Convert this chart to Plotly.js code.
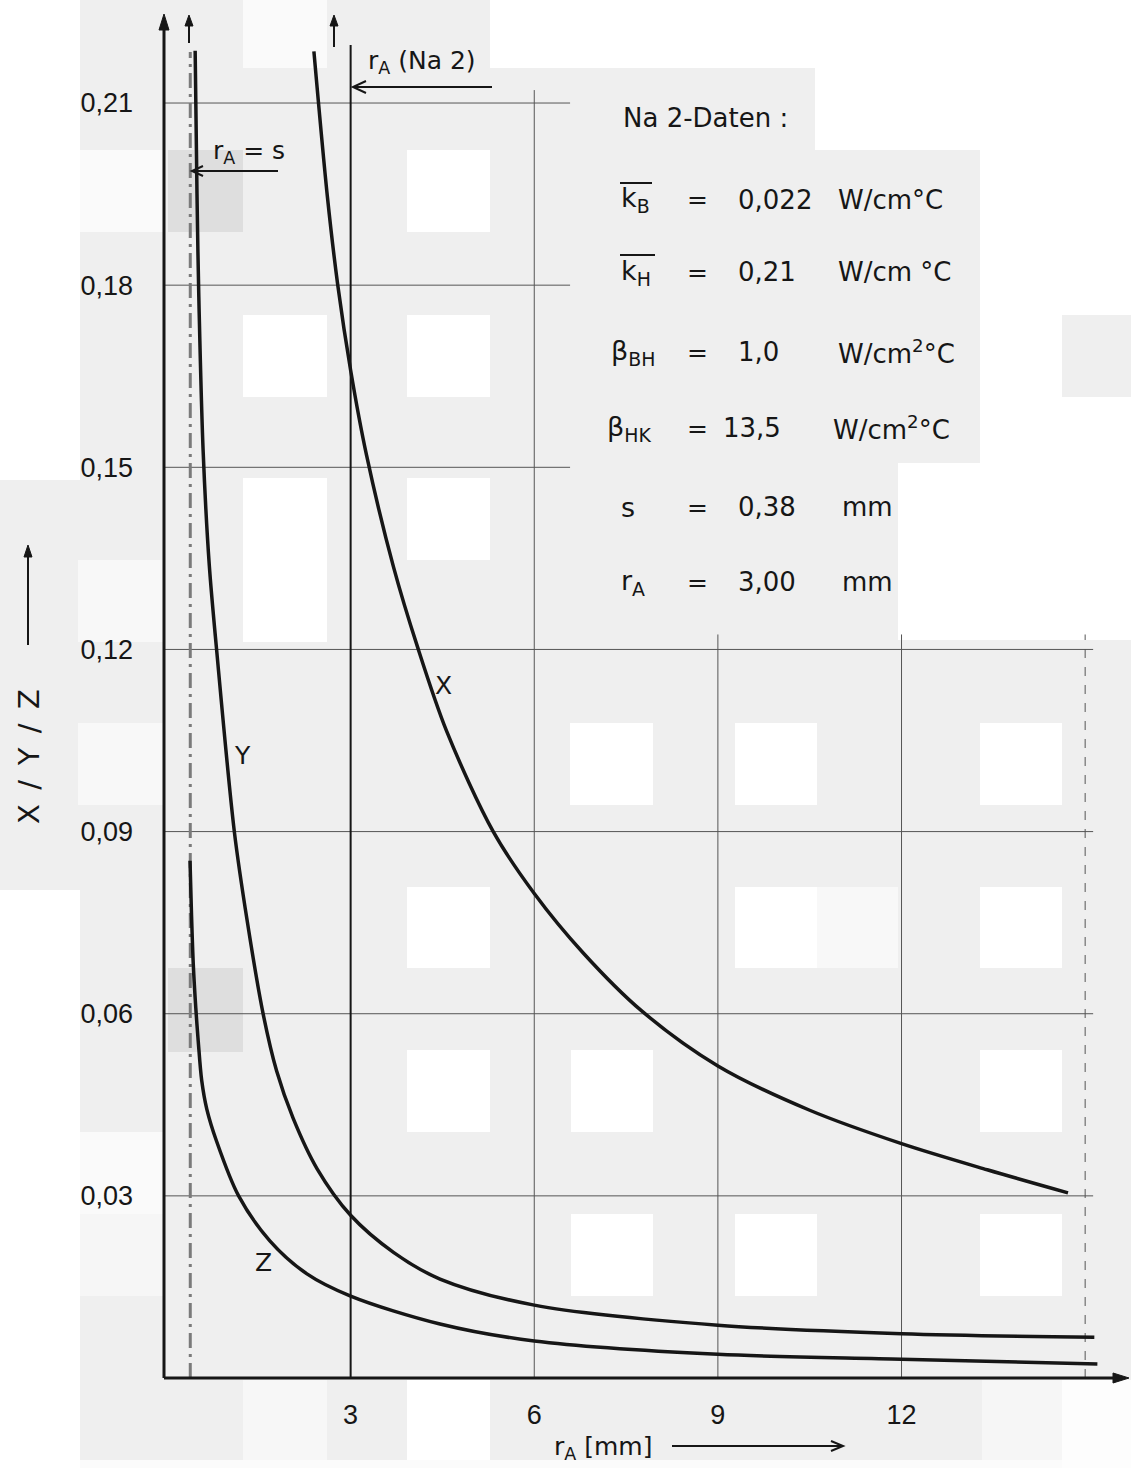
<!DOCTYPE html>
<html>
<head>
<meta charset="utf-8">
<script src="https://cdn.plot.ly/plotly-3.0.1.min.js"></script>
<style>html,body{margin:0;padding:0;background:#efefef;}#chart{width:1131px;height:1468px;}</style>
</head>
<body>
<div id="chart"></div>
<script>
// ---------- data ----------
const xTickVals = [3, 6, 9, 12];
const yTickVals = [0.03, 0.06, 0.09, 0.12, 0.15, 0.18, 0.21];

const curveX_r = [2.40, 2.62, 2.79, 3.00, 3.26, 3.70, 4.09, 4.57, 5.33, 6.00, 6.80, 7.75, 9.00, 10.50, 12.00, 13.40, 14.72];
const curveX_v = [0.2185, 0.1946, 0.1800, 0.1660, 0.1520, 0.1336, 0.1205, 0.1065, 0.0900, 0.0798, 0.0700, 0.0605, 0.0514, 0.0441, 0.0386, 0.0343, 0.0305];

const curveY_r = [0.46, 0.49, 0.52, 0.59, 0.69, 0.81, 1.10, 1.31, 1.57, 1.79, 2.06, 2.45, 3.00, 3.70, 4.46, 6.00, 9.00, 12.00, 15.15];
const curveY_v = [0.2186, 0.1950, 0.1780, 0.1528, 0.1340, 0.1200, 0.0900, 0.0753, 0.0600, 0.0506, 0.0428, 0.0345, 0.0268, 0.0207, 0.0163, 0.0120, 0.0087, 0.0073, 0.0067];

const curveZ_r = [0.376, 0.40, 0.43, 0.47, 0.51, 0.567, 0.65, 0.81, 1.17, 1.68, 2.28, 3.00, 4.46, 6.00, 9.00, 12.00, 15.20];
const curveZ_v = [0.0852, 0.0765, 0.0680, 0.0610, 0.0555, 0.0490, 0.0443, 0.0390, 0.0300, 0.0226, 0.0172, 0.0135, 0.0089, 0.0061, 0.0039, 0.0031, 0.0023];

const s_mm = 0.38;      // r_A = s
const rA_mm = 3.00;     // r_A (Na 2)

const tableLabels = ['k<sub>B</sub>', 'k<sub>H</sub>', 'β<sub>BH</sub>', 'β<sub>HK</sub>', 's', 'r<sub>A</sub>'];
const tableValues = ['0,022', '0,21', '1,0', '13,5', '0,38', '3,00'];
const tableUnits  = ['W/cm°C', 'W/cm °C', 'W/cm<sup>2</sup>°C', 'W/cm<sup>2</sup>°C', 'mm', 'mm'];

// ---------- helpers: pixel -> paper / data (placement of decorations) ----------
const PX = px => (px - 164) / 964;
const PY = py => (1378 - py) / 1363;
const X = px => (px - 167) / 61.2;
const Y = py => (1377 - py) / 6067;

const FONT = 'DejaVu Sans, Liberation Sans, sans-serif';
const TICKFONT = 'Liberation Sans, Arial, sans-serif';
const INK = '#161616';
const GRAY = '#efefef';

const curveLine = {color: INK, width: 3.5, shape: 'spline', smoothing: 0.9};
const traces = [
  {x: curveX_r, y: curveX_v, mode: 'lines', line: curveLine, name: 'X'},
  {x: curveY_r, y: curveY_v, mode: 'lines', line: curveLine, name: 'Y'},
  {x: curveZ_r, y: curveZ_v, mode: 'lines', line: curveLine, name: 'Z'}
];

const shapes = [];
// ---------- scanned background blocks (decoration) ----------
const bgBlocks = [
  [0, 0, 80, 480, '#ffffff'], [0, 890, 80, 1468, '#ffffff'], [80, 1460, 1131, 1468, '#fbfbfb'],
  [243, 0, 327, 68, '#fafafa'], [490, 0, 1131, 68, '#ffffff'], [815, 68, 1131, 150, '#ffffff'],
  [980, 150, 1131, 640, '#ffffff'], [1062, 315, 1131, 397, GRAY], [898, 463, 980, 640, '#ffffff'],
  [80, 150, 163, 232, '#fafafa'], [407, 150, 490, 232, '#ffffff'], [168, 150, 243, 232, '#dedede'],
  [243, 315, 327, 397, '#ffffff'], [407, 315, 490, 397, '#ffffff'],
  [243, 478, 327, 642, '#ffffff'], [407, 478, 490, 560, '#ffffff'],
  [78, 560, 163, 642, '#f8f8f8'], [78, 723, 163, 805, '#f8f8f8'],
  [570, 723, 653, 805, '#ffffff'], [735, 723, 817, 805, '#ffffff'], [980, 723, 1062, 805, '#ffffff'],
  [407, 887, 490, 968, '#ffffff'], [735, 887, 817, 968, '#ffffff'], [817, 887, 898, 968, '#f8f8f8'], [980, 887, 1062, 968, '#ffffff'],
  [168, 968, 243, 1052, '#dedede'],
  [407, 1050, 490, 1132, '#ffffff'], [571, 1050, 653, 1132, '#ffffff'], [980, 1050, 1062, 1132, '#ffffff'],
  [80, 1132, 163, 1214, '#fafafa'], [80, 1214, 163, 1296, '#f6f6f6'],
  [571, 1214, 653, 1296, '#ffffff'], [735, 1214, 817, 1296, '#ffffff'], [980, 1214, 1062, 1296, '#ffffff'],
  [243, 1380, 327, 1460, '#f7f7f7'], [407, 1380, 490, 1460, '#ffffff'],
  [982, 1380, 1062, 1460, '#f6f6f6'], [1062, 1380, 1131, 1468, '#fdfdfd']
];
bgBlocks.forEach(b => shapes.push({type: 'rect', xref: 'paper', yref: 'paper', layer: 'below',
  x0: PX(b[0]), x1: PX(b[2]), y0: PY(b[3]), y1: PY(b[1]), fillcolor: b[4], line: {width: 0}}));

// ---------- grid as shapes ----------
const gridCol = '#555555';
yTickVals.forEach(v => {
  const xEnd = v > 0.125 ? X(570) : X(1093);
  shapes.push({type: 'line', xref: 'x', yref: 'y', x0: -0.049, x1: xEnd, y0: v, y1: v,
               line: {color: gridCol, width: 1}, layer: 'below'});
});
const vGrid = [6, 9, 12, 15];
vGrid.forEach(v => {
  const yTop = v === 6 ? Y(90) : Y(634);
  shapes.push({type: 'line', xref: 'x', yref: 'y', x0: v, x1: v, y0: 0, y1: yTop,
               line: {color: gridCol, width: 1, dash: v === 15 ? 'dash' : 'solid'}, layer: 'below'});
});
// r_A = s marker line (dash-dot, grey)
shapes.push({type: 'line', xref: 'x', yref: 'y', x0: s_mm, x1: s_mm, y0: 0, y1: Y(52),
             line: {color: '#7a7a7a', width: 3, dash: 'longdashdot'}, layer: 'below'});
// r_A (Na 2) marker line
shapes.push({type: 'line', xref: 'x', yref: 'y', x0: rA_mm, x1: rA_mm, y0: 0, y1: Y(45),
             line: {color: INK, width: 2}, layer: 'below'});
// overlines on k_B and k_H
shapes.push({type: 'line', xref: 'paper', yref: 'paper', x0: PX(620), x1: PX(652), y0: PY(183), y1: PY(183), line: {color: INK, width: 2}});
shapes.push({type: 'line', xref: 'paper', yref: 'paper', x0: PX(620), x1: PX(655), y0: PY(255), y1: PY(255), line: {color: INK, width: 2}});

// ---------- arrows drawn as shapes (shaft + head), pixel placement ----------
function arrowShape(tx, ty, hx, hy, w, filled, L, hw) {
  const dx = hx - tx, dy = hy - ty, len = Math.hypot(dx, dy);
  const ux = dx / len, uy = dy / len, nx = -uy, ny = ux;
  const bx = hx - L * ux, by = hy - L * uy;
  const w1 = [bx + hw * nx, by + hw * ny], w2 = [bx - hw * nx, by - hw * ny];
  const sx = filled ? bx + 2 * ux : hx, sy = filled ? by + 2 * uy : hy;
  shapes.push({type: 'line', xref: 'paper', yref: 'paper', x0: PX(tx), y0: PY(ty), x1: PX(sx), y1: PY(sy),
               line: {color: INK, width: w}});
  const p = (pt) => PX(pt[0]).toFixed(5) + ',' + PY(pt[1]).toFixed(5);
  if (filled) {
    shapes.push({type: 'path', xref: 'paper', yref: 'paper', path: 'M' + p([hx, hy]) + ' L' + p(w1) + ' L' + p(w2) + ' Z',
                 fillcolor: INK, line: {color: INK, width: 1}});
  } else {
    shapes.push({type: 'path', xref: 'paper', yref: 'paper', path: 'M' + p(w1) + ' L' + p([hx, hy]) + ' L' + p(w2),
                 line: {color: INK, width: w}});
  }
}
arrowShape(164, 1378, 164, 14, 3, true, 16, 5);      // y axis
arrowShape(164, 1378, 1129, 1378, 3, true, 16, 5);   // x axis
arrowShape(189, 43, 189, 15, 2, true, 11, 4);        // top arrow over r_A = s
arrowShape(334, 47, 334, 15, 2, true, 11, 4);        // top arrow over X
arrowShape(278, 171, 192, 171, 2, false, 11, 5);     // r_A = s pointer
arrowShape(492, 87, 353, 87, 2, false, 13, 6);       // r_A (Na 2) pointer
arrowShape(28, 645, 28, 545, 2, true, 12, 4);        // y title arrow
arrowShape(672, 1446, 843, 1446, 2, false, 12, 5);   // x title arrow

// ---------- text annotations ----------
const ann = [];
const txt = (px, py, t, size, extra) => Object.assign({x: PX(px), y: PY(py), xref: 'paper', yref: 'paper',
  xanchor: 'center', yanchor: 'middle', showarrow: false, text: t,
  font: {family: FONT, size: size, color: INK}}, extra || {});
ann.push(txt(211, 152, 'r<sub>A</sub> = s', 25, {xanchor: 'left'}));
ann.push(txt(366, 62, 'r<sub>A</sub> (Na 2)', 25, {xanchor: 'left'}));
// curve names
ann.push(txt(443, 685, 'X', 25));
ann.push(txt(242, 755, 'Y', 25));
ann.push(txt(263, 1262, 'Z', 25));
// data table
ann.push(txt(621, 118, 'Na 2-Daten :', 26, {xanchor: 'left'}));
const rowY = [200, 272, 352, 428, 507, 582];
const labX = [619, 619, 609, 605, 619, 619];
const valX = [736, 736, 736, 721, 736, 736];
const unitX = [836, 836, 836, 831, 840, 840];
tableLabels.forEach((t, i) => {
  ann.push(txt(labX[i], rowY[i], t, 27, {xanchor: 'left'}));
  ann.push(txt(697, rowY[i], '=', 25));
  ann.push(txt(valX[i], rowY[i], tableValues[i], 26, {xanchor: 'left'}));
  ann.push(txt(unitX[i], rowY[i], tableUnits[i], 26, {xanchor: 'left'}));
});
// axis titles
ann.push(txt(29, 757, 'X\u2002/\u2002Y\u2002/\u2002Z', 29, {textangle: -90}));
ann.push(txt(603, 1448, 'r<sub>A</sub> [mm]', 25));

const layout = {
  width: 1131, height: 1468,
  margin: {l: 164, r: 3, t: 15, b: 90, pad: 0},
  paper_bgcolor: GRAY,
  plot_bgcolor: 'rgba(0,0,0,0)',
  separators: ',.',
  showlegend: false,
  xaxis: {range: [-0.049, 15.70], showgrid: false, zeroline: false, showline: false,
          tickvals: xTickVals, tickformat: 'd', ticks: '', ticklabelstandoff: 18,
          tickfont: {family: TICKFONT, size: 27, color: INK}},
  yaxis: {range: [0, 0.2245], showgrid: false, zeroline: false, showline: false,
          tickvals: yTickVals, tickformat: '.2f', ticks: '', ticklabelstandoff: 30,
          tickfont: {family: TICKFONT, size: 27, color: INK}},
  shapes: shapes,
  annotations: ann
};

Plotly.newPlot('chart', traces, layout, {displayModeBar: false, staticPlot: true});
</script>
</body>
</html>
